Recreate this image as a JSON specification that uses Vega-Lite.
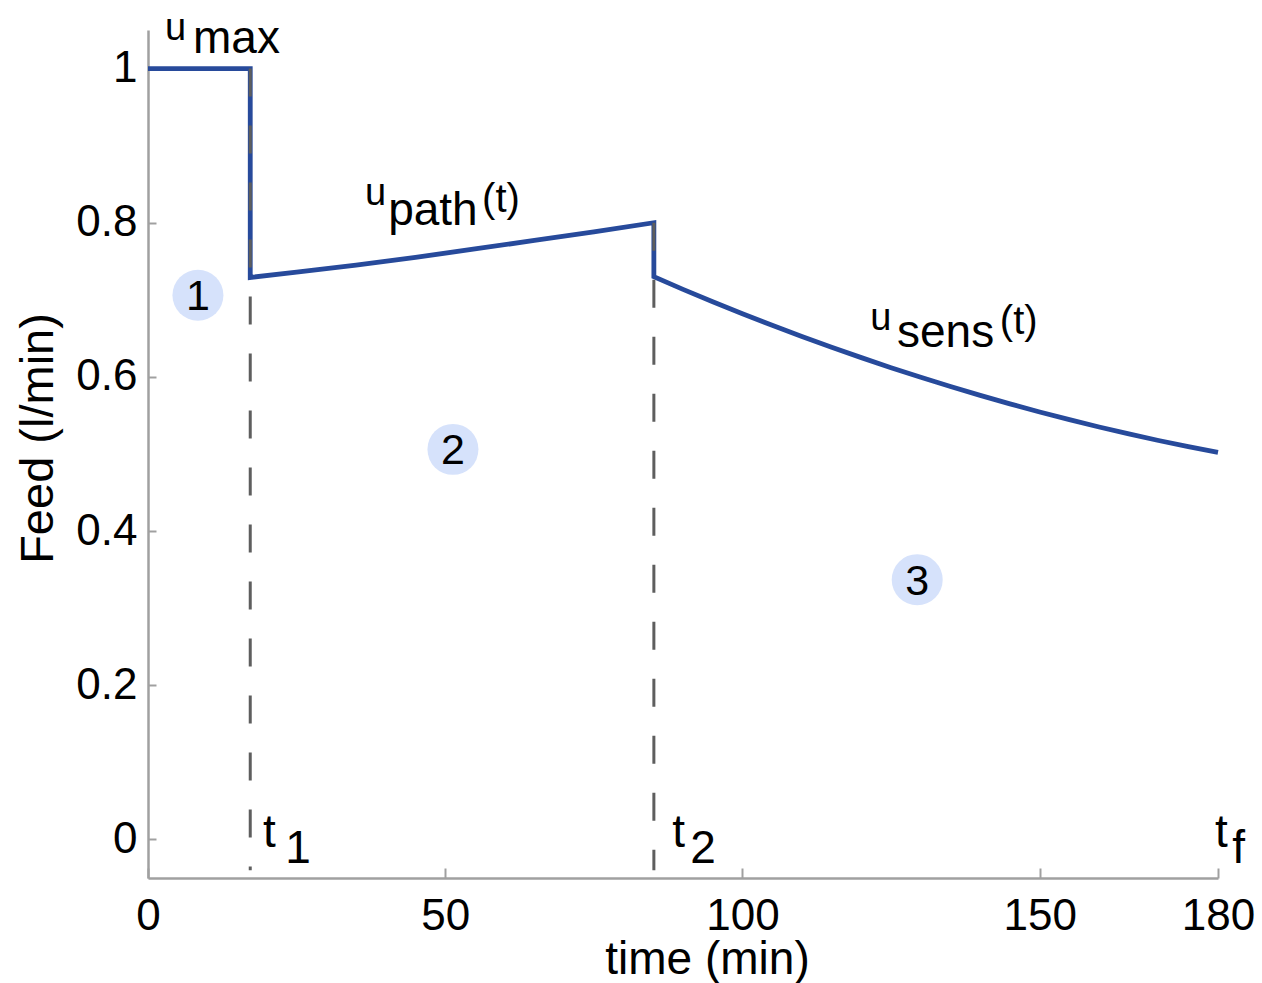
{
  "$schema": "https://vega.github.io/schema/vega-lite/v6.json",
  "width": 1070,
  "height": 848,
  "autosize": {"type": "none"},
  "padding": {"left": 148, "top": 30, "right": 44, "bottom": 105},
  "background": "white",
  "config": {
    "view": {"stroke": null},
    "font": "Liberation Sans",
    "text": {"font": "Liberation Sans"}
  },
  "datasets": {
    "feed": [
      {"i": 0, "t": 0, "v": 1.0},
      {"i": 1, "t": 17.2, "v": 1.0},
      {"i": 2, "t": 17.2, "v": 0.729},
      {"i": 3, "t": 25, "v": 0.736},
      {"i": 4, "t": 35, "v": 0.745},
      {"i": 5, "t": 45, "v": 0.755},
      {"i": 6, "t": 55, "v": 0.766},
      {"i": 7, "t": 65, "v": 0.777},
      {"i": 8, "t": 75, "v": 0.788},
      {"i": 9, "t": 85.1, "v": 0.8},
      {"i": 10, "t": 85.1, "v": 0.73},
      {"i": 11, "t": 90, "v": 0.7135},
      {"i": 12, "t": 95, "v": 0.6975},
      {"i": 13, "t": 100, "v": 0.682},
      {"i": 14, "t": 105, "v": 0.667},
      {"i": 15, "t": 110, "v": 0.6525},
      {"i": 16, "t": 115, "v": 0.6385},
      {"i": 17, "t": 120, "v": 0.625},
      {"i": 18, "t": 125, "v": 0.612},
      {"i": 19, "t": 130, "v": 0.5995},
      {"i": 20, "t": 135, "v": 0.5875},
      {"i": 21, "t": 140, "v": 0.576},
      {"i": 22, "t": 145, "v": 0.565},
      {"i": 23, "t": 150, "v": 0.5545},
      {"i": 24, "t": 155, "v": 0.5445},
      {"i": 25, "t": 160, "v": 0.535},
      {"i": 26, "t": 165, "v": 0.526},
      {"i": 27, "t": 170, "v": 0.5175},
      {"i": 28, "t": 175, "v": 0.5095},
      {"i": 29, "t": 180, "v": 0.502}
    ],
    "switches": [
      {"t": 17.2, "top": 1.0, "bottom": -0.04},
      {"t": 85.1, "top": 0.8, "bottom": -0.04}
    ],
    "phases": [
      {"t": 8.4, "v": 0.706, "label": "1"},
      {"t": 51.3, "v": 0.506, "label": "2"},
      {"t": 129.4, "v": 0.337, "label": "3"}
    ],
    "smallText": [
      {"t": 2.86, "v": 1.037, "label": "u"},
      {"t": 36.5, "v": 0.823, "label": "u"},
      {"t": 121.5, "v": 0.661, "label": "u"}
    ],
    "bigText": [
      {"t": 7.57, "v": 1.02, "label": "max"},
      {"t": 40.4, "v": 0.797, "label": "path"},
      {"t": 126.0, "v": 0.639, "label": "sens"},
      {"t": 19.35, "v": -0.0098, "label": "t"},
      {"t": 23.1, "v": -0.0305, "label": "1"},
      {"t": 88.2, "v": -0.0098, "label": "t"},
      {"t": 91.2, "v": -0.0305, "label": "2"},
      {"t": 179.5, "v": -0.0098, "label": "t"},
      {"t": 182.4, "v": -0.0305, "label": "f"}
    ],
    "parenText": [
      {"t": 56.2, "v": 0.814, "label": "(t)"},
      {"t": 143.3, "v": 0.656, "label": "(t)"}
    ]
  },
  "layer": [
    {
      "data": {"name": "feed"},
      "mark": {"type": "line", "color": "#274a9b", "strokeWidth": 4.8, "strokeJoin": "miter"},
      "encoding": {
        "x": {
          "field": "t", "type": "quantitative",
          "scale": {"domain": [0, 180], "nice": false, "zero": false},
          "axis": {
            "title": "time (min)",
            "values": [0, 50, 100, 150, 180],
            "grid": false,
            "domainColor": "#a0a0a0", "domainWidth": 2.5,
            "tickColor": "#a0a0a0", "tickWidth": 2, "tickSize": -10,
            "labelFont": "Liberation Sans", "labelFontSize": 44, "labelColor": "#000000",
            "labelPadding": 26, "labelFlush": false,
            "titleFont": "Liberation Sans", "titleFontSize": 46, "titleFontWeight": "normal", "titleColor": "#000000",
            "titleX": 559, "titleY": 95, "titleAlign": "center", "titleBaseline": "alphabetic", "titleAnchor": null
          }
        },
        "y": {
          "field": "v", "type": "quantitative",
          "scale": {"domain": [-0.05, 1.05], "nice": false, "zero": false},
          "axis": {
            "title": "Feed (l/min)",
            "values": [0, 0.2, 0.4, 0.6, 0.8, 1],
            "format": ".1~f",
            "grid": false,
            "domainColor": "#a0a0a0", "domainWidth": 2.5,
            "tickColor": "#a0a0a0", "tickWidth": 2, "tickSize": -8,
            "labelFont": "Liberation Sans", "labelFontSize": 44, "labelColor": "#000000",
            "labelPadding": 19, "labelFlush": false,
            "titleFont": "Liberation Sans", "titleFontSize": 47, "titleFontWeight": "normal", "titleColor": "#000000",
            "titleX": -96, "titleY": 408, "titleAngle": -90, "titleAlign": "center", "titleBaseline": "alphabetic", "titleAnchor": null
          }
        },
        "order": {"field": "i", "type": "quantitative"}
      }
    },
    {
      "data": {"name": "switches"},
      "mark": {"type": "rule", "color": "#5e5e5e", "strokeWidth": 3, "strokeDash": [28, 29]},
      "encoding": {
        "x": {"field": "t", "type": "quantitative"},
        "y": {"field": "top", "type": "quantitative"},
        "y2": {"field": "bottom"}
      }
    },
    {
      "data": {"name": "phases"},
      "mark": {"type": "point", "shape": "circle", "filled": true, "color": "#d6e2fb", "opacity": 1, "size": 2600},
      "encoding": {
        "x": {"field": "t", "type": "quantitative"},
        "y": {"field": "v", "type": "quantitative"}
      }
    },
    {
      "data": {"name": "phases"},
      "mark": {"type": "text", "font": "Liberation Sans", "fontSize": 43, "color": "#000000", "align": "center", "baseline": "middle", "dy": 2},
      "encoding": {
        "x": {"field": "t", "type": "quantitative"},
        "y": {"field": "v", "type": "quantitative"},
        "text": {"field": "label"}
      }
    },
    {
      "data": {"name": "smallText"},
      "mark": {"type": "text", "font": "Liberation Sans", "fontSize": 38, "color": "#000000", "align": "left", "baseline": "alphabetic"},
      "encoding": {
        "x": {"field": "t", "type": "quantitative"},
        "y": {"field": "v", "type": "quantitative"},
        "text": {"field": "label"}
      }
    },
    {
      "data": {"name": "bigText"},
      "mark": {"type": "text", "font": "Liberation Sans", "fontSize": 46, "color": "#000000", "align": "left", "baseline": "alphabetic"},
      "encoding": {
        "x": {"field": "t", "type": "quantitative"},
        "y": {"field": "v", "type": "quantitative"},
        "text": {"field": "label"}
      }
    },
    {
      "data": {"name": "parenText"},
      "mark": {"type": "text", "font": "Liberation Sans", "fontSize": 40, "color": "#000000", "align": "left", "baseline": "alphabetic"},
      "encoding": {
        "x": {"field": "t", "type": "quantitative"},
        "y": {"field": "v", "type": "quantitative"},
        "text": {"field": "label"}
      }
    }
  ]
}
